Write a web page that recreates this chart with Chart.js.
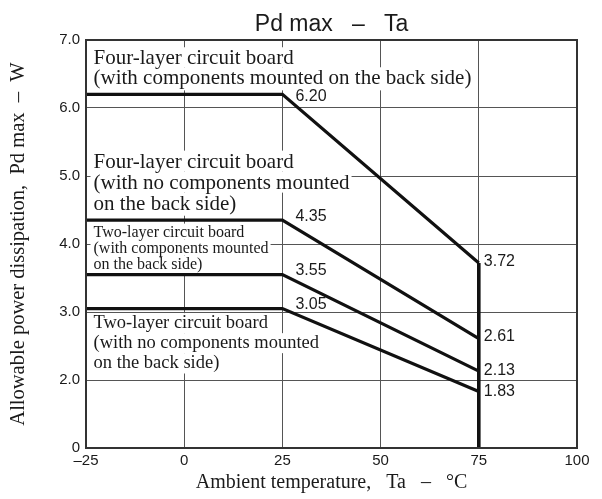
<!DOCTYPE html>
<html>
<head>
<meta charset="utf-8">
<script src="https://cdn.jsdelivr.net/npm/chart.js@4.4.1/dist/chart.umd.min.js"></script>
<style>
  body { margin: 0; background: #fff; }
  #wrap { width: 602px; height: 499px; }
</style>
</head>
<body>
<div id="wrap"><canvas id="pd-chart"></canvas></div>
<script>
// DATOS DEL GRAFICO
const temps = [-25, 25, 75];
const fourLayerBack = [6.20, 6.20, 3.72];
const fourLayerNoBack = [4.35, 4.35, 2.61];
const twoLayerBack = [3.55, 3.55, 2.13];
const twoLayerNoBack = [3.05, 3.05, 1.83];
const cutoffTemps = [75, 75];
const cutoffValues = [3.72, 0];

const xTicks = [-25, 0, 25, 50, 75, 100];
const yTicks = [1, 2, 3, 4, 5, 6, 7];
const yTickLabels = ["0", "2.0", "3.0", "4.0", "5.0", "6.0", "7.0"];

const chartTitle = "Pd max   –   Ta";

const boardNotes = [
  ["Four-layer circuit board", "(with components mounted on the back side)"],
  ["Four-layer circuit board", "(with no components mounted", "on the back side)"],
  ["Two-layer circuit board", "(with components mounted", "on the back side)"],
  ["Two-layer circuit board", "(with no components mounted", "on the back side)"],
];

// donde van las notas (valor y de la primera linea, tamaño, interlineado)
const noteLayout = [
  { y: 6.64, size: 21, gap: 20 },
  { y: 5.12, size: 21, gap: 21 },
  { y: 4.107, size: 16, gap: 16 },
  { y: 2.76, size: 18.5, gap: 20 },
];
// desplazamiento de las etiquetas de valores (px)
const valueOffsets = [
  [[13, 2], [5, -1]],
  [[13, -4], [5, -2]],
  [[13, -4], [5, -1]],
  [[13, -4], [5, 0]],
];

const allSeries = [fourLayerBack, fourLayerNoBack, twoLayerBack, twoLayerNoBack];

function toPoints(xs, ys) {
  return xs.map((x, i) => ({ x: x, y: ys[i] }));
}

const lineStyle = {
  borderColor: "#111",
  borderWidth: 3.2,
  pointRadius: 0,
  showLine: true,
  fill: false,
  tension: 0,
};

const datasets = allSeries.map((s) => Object.assign({ data: toPoints(temps, s) }, lineStyle));
datasets.push(Object.assign({ data: toPoints(cutoffTemps, cutoffValues) }, lineStyle, { borderWidth: 3.6 }));

// PLUGIN: TITULO, NOTAS CON FONDO BLANCO Y MARCO
const notesPlugin = {
  id: "notes",
  beforeDatasetsDraw(chart) {
    const ctx = chart.ctx;
    const area = chart.chartArea;
    const ys = chart.scales.y;
    ctx.save();
    ctx.textBaseline = "alphabetic";
    ctx.textAlign = "left";
    boardNotes.forEach((lines, n) => {
      const lay = noteLayout[n];
      const left = area.left + 7.5;
      ctx.font = lay.size + "px 'Liberation Serif', 'Times New Roman', serif";
      const base0 = ys.getPixelForValue(lay.y);
      lines.forEach((txt, i) => {
        const base = base0 + i * lay.gap;
        const w = ctx.measureText(txt).width;
        const top = base - lay.size * 0.82;
        const h = i === lines.length - 1 ? lay.size * 1.1 : lay.gap;
        ctx.fillStyle = "#fff";
        ctx.fillRect(left - 3, top, w + 5, h);
      });
      ctx.fillStyle = "#1a1a1a";
      lines.forEach((txt, i) => {
        ctx.fillText(txt, left, base0 + i * lay.gap);
      });
    });
    ctx.restore();
  },
  afterDatasetsDraw(chart) {
    const ctx = chart.ctx;
    const xs = chart.scales.x;
    const ys = chart.scales.y;
    const a = chart.chartArea;
    ctx.save();
    ctx.font = "16px 'Liberation Sans', Arial, sans-serif";
    ctx.fillStyle = "#1a1a1a";
    ctx.textBaseline = "middle";
    ctx.textAlign = "left";
    allSeries.forEach((s, n) => {
      [1, 2].forEach((idx, k) => {
        const off = valueOffsets[n][k];
        const px = xs.getPixelForValue(temps[idx]) + off[0];
        const py = ys.getPixelForValue(s[idx]) + off[1];
        ctx.fillText(s[idx].toFixed(2), px, py);
      });
    });
    // titulo centrado sobre el area del grafico
    ctx.font = "23px 'Liberation Sans', Arial, sans-serif";
    ctx.textAlign = "center";
    ctx.textBaseline = "alphabetic";
    ctx.fillText(chartTitle, (a.left + a.right) / 2, a.top - 9);
    // marco
    ctx.strokeStyle = "#333";
    ctx.lineWidth = 2;
    ctx.strokeRect(a.left, a.top, a.right - a.left, a.bottom - a.top);
    ctx.restore();
  },
};

const context = document.getElementById("pd-chart").getContext("2d");
const chart = new Chart(context, {
  type: "scatter",
  data: { datasets },
  plugins: [notesPlugin],
  options: {
    responsive: true,
    maintainAspectRatio: false,
    animation: false,
    devicePixelRatio: 1,
    layout: { padding: { left: 0, right: 25, top: 40, bottom: 0 } },
    plugins: {
      legend: { display: false },
      tooltip: { enabled: false },
      title: { display: false },
    },
    scales: {
      x: {
        type: "linear",
        min: -25,
        max: 100,
        afterBuildTicks: (scale) => { scale.ticks = xTicks.map((v) => ({ value: v })); },
        afterFit: (scale) => { scale.height = 51; },
        ticks: {
          color: "#1a1a1a",
          padding: 4,
          font: { family: "'Liberation Sans', Arial, sans-serif", size: 15 },
          callback: (v) => (v < 0 ? "–" + Math.abs(v) : String(v)),
        },
        grid: { color: "#555", lineWidth: 1, drawTicks: false },
        border: { display: false },
        title: {
          display: true,
          text: "Ambient temperature,   Ta   –   °C",
          color: "#1a1a1a",
          font: { family: "'Liberation Serif', 'Times New Roman', serif", size: 20 },
          padding: { top: 0, bottom: 4 },
        },
      },
      y: {
        type: "linear",
        min: 1,
        max: 7,
        afterBuildTicks: (scale) => { scale.ticks = yTicks.map((v) => ({ value: v })); },
        afterFit: (scale) => { scale.width = 86; },
        ticks: {
          color: "#1a1a1a",
          padding: 6,
          font: { family: "'Liberation Sans', Arial, sans-serif", size: 15 },
          callback: (v) => yTickLabels[yTicks.indexOf(v)],
        },
        grid: { color: "#555", lineWidth: 1, drawTicks: false },
        border: { display: false },
        title: {
          display: true,
          text: "Allowable power dissipation,  Pd max  –  W",
          color: "#1a1a1a",
          font: { family: "'Liberation Serif', 'Times New Roman', serif", size: 20.5 },
          padding: { top: 6, bottom: 0 },
        },
      },
    },
  },
});
</script>
</body>
</html>
